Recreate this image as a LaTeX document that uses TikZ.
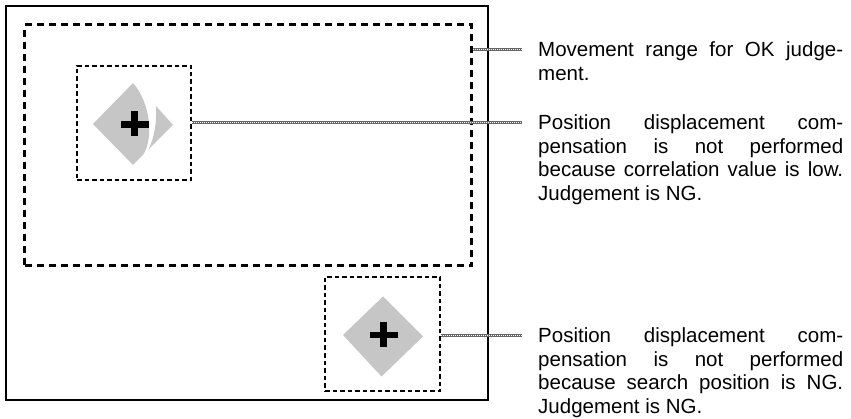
\documentclass[tikz,border=0pt]{standalone}
\usepackage{fontspec}
\setmainfont{Liberation Sans}
\usetikzlibrary{positioning, calc}
\tolerance=9999
\hyphenpenalty=10000

\begin{document}
\begin{tikzpicture}[x=1pt, y=-1pt,
        frame/.style={draw=black, line width=1.6pt},
        okrange/.style={rectangle, draw=black, line width=3pt, dash pattern=on 7pt off 5pt,
                        minimum width=447pt, minimum height=241pt, inner sep=0pt},
        window/.style={rectangle, draw=black, line width=1.6pt, dash pattern=on 4.5pt off 3pt,
                       minimum width=114pt, minimum height=114pt, inner sep=0pt},
        halftone/.style={fill=gray!45},
        hbar/.style={fill=black, minimum width=28pt, minimum height=6.5pt, inner sep=0pt},
        vbar/.style={fill=black, minimum width=6.5pt, minimum height=25pt, inner sep=0pt},
        note/.style={anchor=base west, text width=305pt, align=justify, inner sep=0pt,
                     font=\fontsize{20.5}{23.5}\selectfont},
        leader/.style={line width=3pt, draw=black!60,
                       postaction={draw=white, line width=1pt, dash pattern=on 1pt off 1pt}}
    ]
        \useasboundingbox (0,0) rectangle (851,419);
        \draw[frame] (6,6) rectangle (488,400);

        \node[okrange] (okarea) at (248.25,145.25) {};
        \node[window] (box1) at (134,123) {};
        \node[window, minimum width=115pt] (box2) at (382.5,334) {};

        \fill[halftone] (133,83) -- (93,124) -- (133,165) -- (143,155)
            .. controls (153,140) and (152,105) .. (133,83) -- cycle;
        \fill[halftone] (156,106) -- (173,125) -- (148,150)
            .. controls (154,140) and (157,122) .. (156,106) -- cycle;
        \fill[halftone] (383,296.5) -- (423,336.5) -- (381.5,376.5) -- (343,335) -- cycle;

        \node[hbar] (plus1h) at (134.7,124.7) {};
        \node[vbar] (plus1v) at (134.7,123.8) {};
        \node[hbar] (plus2h) at (383.5,335) {};
        \node[vbar] (plus2v) at (383.5,334.2) {};

        \node[note] (txtrange) at (538,57) {Movement range for OK judge-\linebreak ment.};
        \node[note] (txtlow) at (538,130) {Position displacement com-\linebreak pensation is not performed\linebreak because correlation value is low.\linebreak Judgement is NG.};
        \node[note] (txtsearch) at (538,343) {Position displacement com-\linebreak pensation is not performed\linebreak because search position is NG.\linebreak Judgement is NG.};

        \coordinate (endrange) at ($(txtrange.base west)+(-16,-7)$);
        \coordinate (endlow) at ($(txtlow.base west)+(-16,-7)$);
        \coordinate (endsearch) at ($(txtsearch.base west)+(-16,-7)$);

        \draw[leader] (okarea.east |- endrange) -- (endrange);
        \draw[leader] (box1.east |- endlow) -- (endlow);
        \draw[leader] (box2.east |- endsearch) -- (endsearch);
\end{tikzpicture}
\end{document}
